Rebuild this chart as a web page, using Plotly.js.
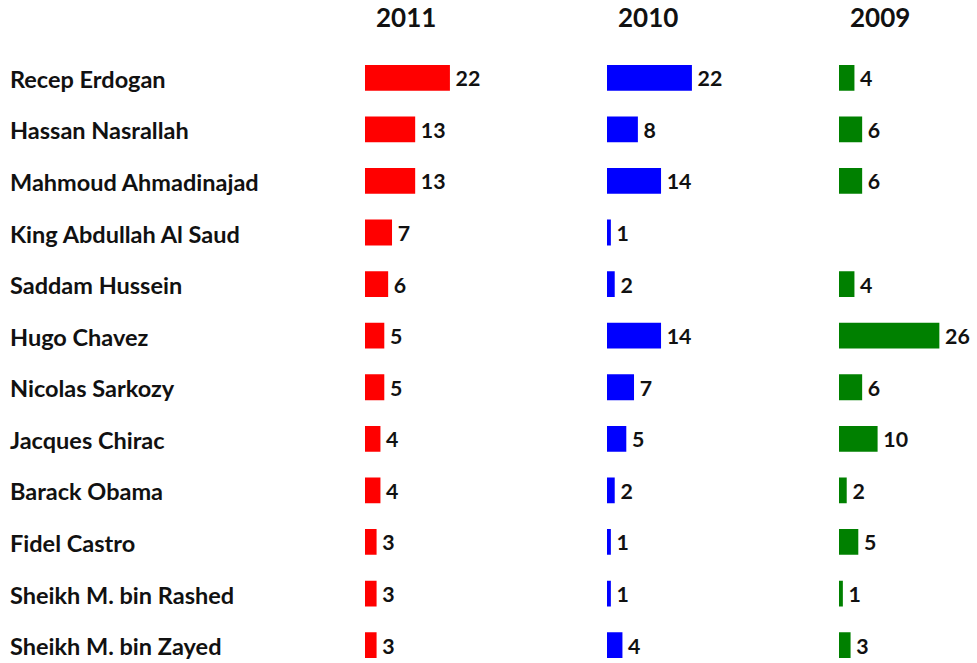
<!DOCTYPE html>
<html>
<head>
<meta charset="utf-8">
<script src="https://cdn.plot.ly/plotly-3.0.1.min.js"></script>
<style>html,body{margin:0;padding:0;background:#fff;}#chart{width:977px;height:663px;}</style>
</head>
<body>
<div id="chart"></div>
<script>
const names = ["Recep Erdogan","Hassan Nasrallah","Mahmoud Ahmadinajad","King Abdullah Al Saud","Saddam Hussein","Hugo Chavez","Nicolas Sarkozy","Jacques Chirac","Barack Obama","Fidel Castro","Sheikh M. bin Rashed","Sheikh M. bin Zayed"];
const years = ["2011","2010","2009"];
const v2011 = [22,13,13,7,6,5,5,4,4,3,3,3];
const v2010 = [22,8,14,1,2,14,7,5,2,1,1,4];
const v2009 = [4,6,6,null,4,26,6,10,2,5,1,3];
const colors = ["#ff0000","#0000ff","#008000"];

const FONT = "Lato, 'Open Sans', sans-serif";
const series = [v2011, v2010, v2009];
const axes = ["x","x2","x3"];
const traces = series.map((vals, i) => ({
  type: "bar",
  orientation: "h",
  x: vals,
  y: names,
  xaxis: axes[i],
  yaxis: "y",
  marker: {color: colors[i]},
  text: vals.map(v => v == null ? "" : "\u2009" + String(v)),
  texttemplate: "%{text}",
  textposition: "outside",
  cliponaxis: false,
  textfont: {family: FONT, size: 24, color: "#111", weight: "bold"},
  hoverinfo: "skip",
  showlegend: false
}));

const W = 977;
const pxPerUnit = 3.86;
const xmax = 30;
const starts = [365, 607, 839];
const mkX = (s) => ({
  domain: [s / W, (s + xmax * pxPerUnit) / W],
  range: [0, xmax],
  visible: false,
  fixedrange: true
});

const annotations = names.map(n => ({
  xref: "paper", yref: "y", x: 8 / W, y: n,
  xanchor: "left", yanchor: "middle", yshift: -1,
  text: n, showarrow: false,
  font: {family: FONT, size: 23.5, color: "#111", weight: "bold"}
})).concat(years.map((yr, i) => ({
  xref: axes[i], yref: "paper", x: 10.5, y: 1, yshift: 17,
  xanchor: "center", yanchor: "bottom",
  text: yr, showarrow: false,
  font: {family: FONT, size: 26, color: "#111", weight: "bold"}
})));

const layout = {
  width: 977, height: 663,
  margin: {l: 0, r: 0, t: 52, b: 5},
  paper_bgcolor: "#fff", plot_bgcolor: "#fff",
  bargap: 0.5,
  xaxis: mkX(starts[0]),
  xaxis2: mkX(starts[1]),
  xaxis3: mkX(starts[2]),
  yaxis: {type: "category", range: [11.25, -0.5], visible: false, fixedrange: true},
  annotations: annotations
};

Plotly.newPlot("chart", traces, layout, {staticPlot: true, displayModeBar: false});
</script>
</body>
</html>
